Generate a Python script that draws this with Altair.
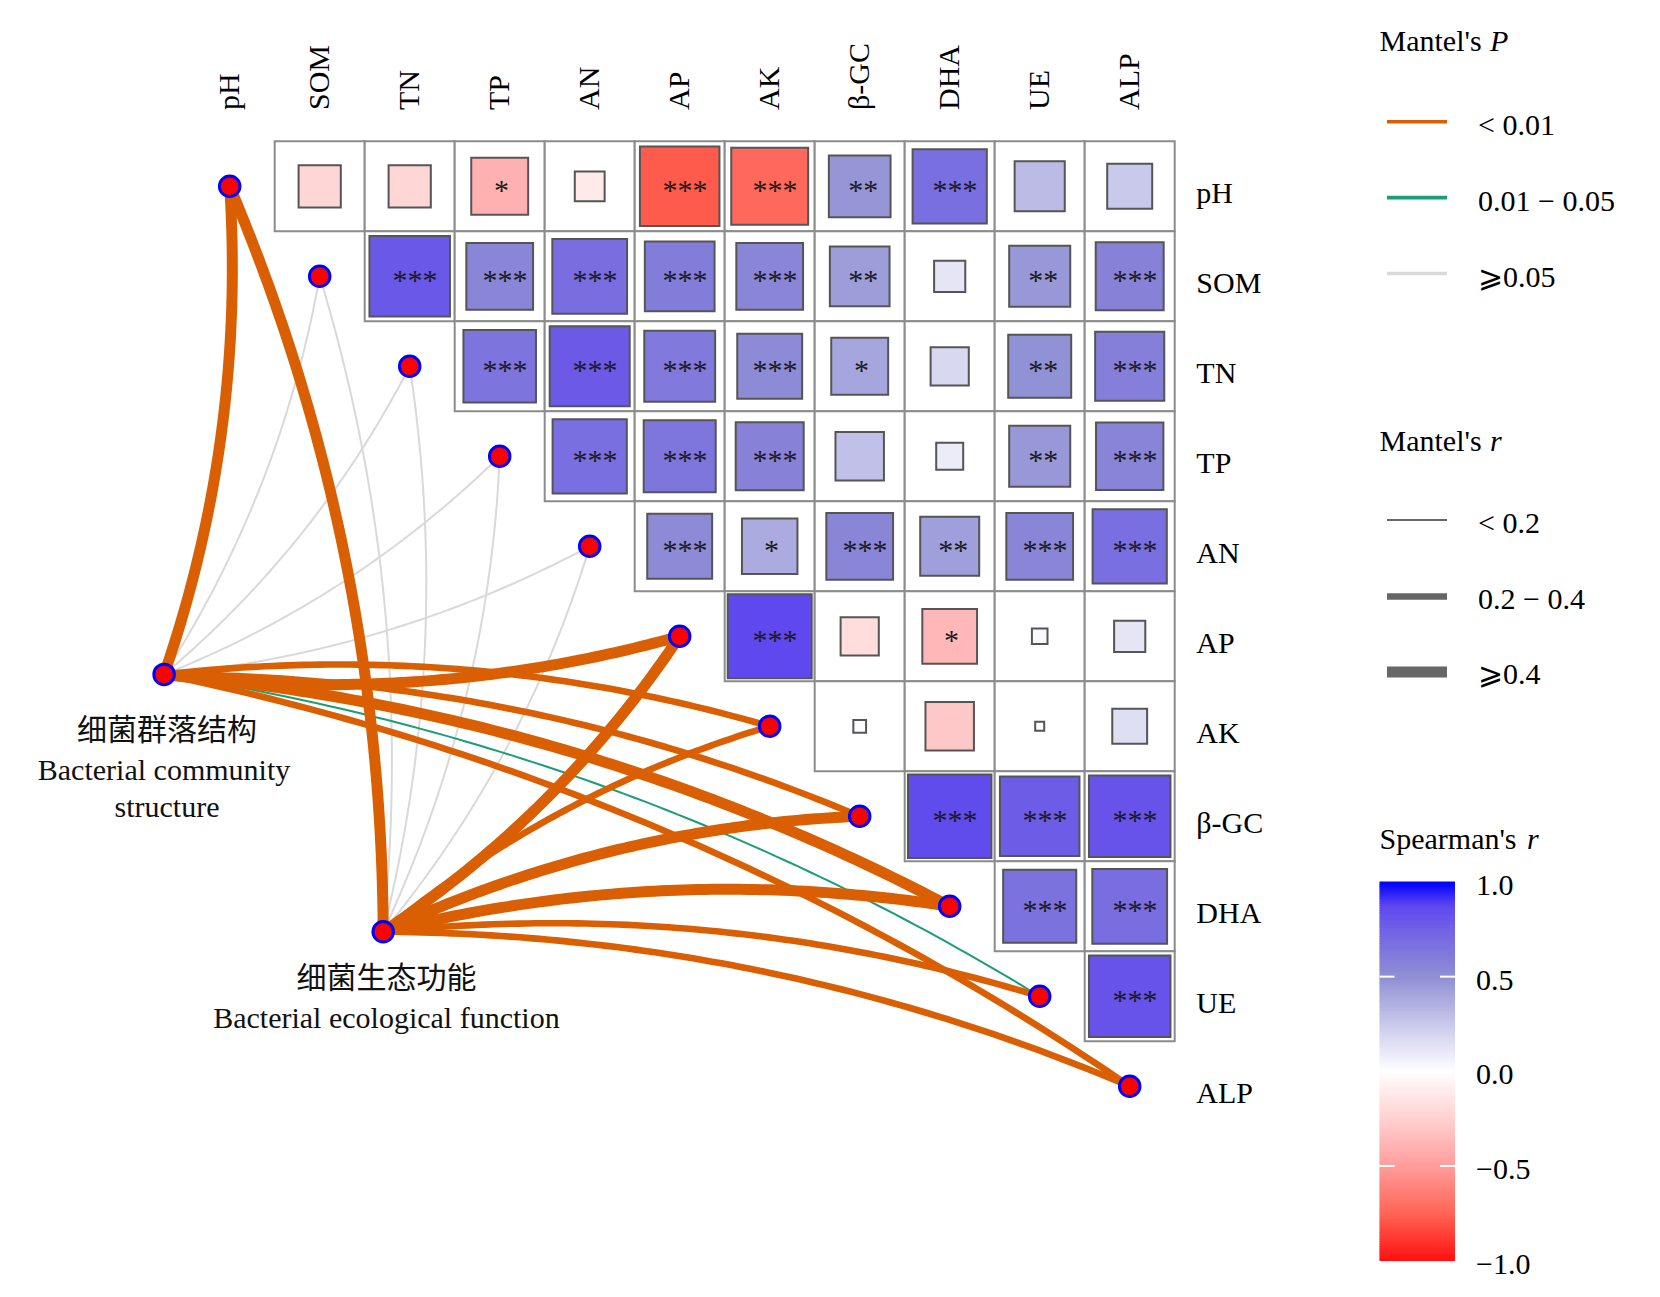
import numpy as np
import pandas as pd
import altair as alt

# ---------------- data ----------------
VARS = ["pH", "SOM", "TN", "TP", "AN", "AP", "AK", "β-GC", "DHA", "UE", "ALP"]

# Spearman's r, upper triangle, row by row (columns to the right of the diagonal)
R_PH = [-0.22, -0.22, -0.40, -0.11, -0.78, -0.73, 0.47, 0.68, 0.31, 0.25]
R_SOM = [0.80, 0.55, 0.69, 0.60, 0.55, 0.44, 0.12, 0.46, 0.57]
R_TN = [0.65, 0.79, 0.62, 0.52, 0.40, 0.18, 0.49, 0.59]
R_TP = [0.68, 0.64, 0.57, 0.29, 0.09, 0.46, 0.56]
R_AN = [0.52, 0.38, 0.55, 0.43, 0.55, 0.68]
R_AP = [0.87, -0.18, -0.37, 0.03, 0.12]
R_AK = [0.02, -0.29, 0.01, 0.15]
R_BGC = [0.86, 0.78, 0.82]
R_DHA = [0.66, 0.69]
R_UE = [0.82]
R_ROWS = [R_PH, R_SOM, R_TN, R_TP, R_AN, R_AP, R_AK, R_BGC, R_DHA, R_UE]

S_PH = ["", "", "*", "", "***", "***", "**", "***", "", ""]
S_SOM = ["***", "***", "***", "***", "***", "**", "", "**", "***"]
S_TN = ["***", "***", "***", "***", "*", "", "**", "***"]
S_TP = ["***", "***", "***", "", "", "**", "***"]
S_AN = ["***", "*", "***", "**", "***", "***"]
S_AP = ["***", "", "*", "", ""]
S_AK = ["", "", "", ""]
S_BGC = ["***", "***", "***"]
S_DHA = ["***", "***"]
S_UE = ["***"]
S_ROWS = [S_PH, S_SOM, S_TN, S_TP, S_AN, S_AP, S_AK, S_BGC, S_DHA, S_UE]

GROUP_CN = ["细菌群落结构", "细菌生态功能"]
GROUP_EN = [["Bacterial community", "structure"], ["Bacterial ecological function"]]

P_LEVELS = ["< 0.01", "0.01 − 0.05", "⩾0.05"]
R_LEVELS = ["< 0.2", "0.2 − 0.4", "⩾0.4"]

# Mantel tests: group 0 = community structure, group 1 = ecological function
EDGE_GROUP = [0] * 11 + [1] * 11
EDGE_TO = VARS + VARS
EDGE_P = ["< 0.01", "⩾0.05", "⩾0.05", "⩾0.05", "⩾0.05", "< 0.01", "< 0.01", "< 0.01", "< 0.01", "0.01 − 0.05", "< 0.01",
          "< 0.01", "⩾0.05", "⩾0.05", "⩾0.05", "⩾0.05", "< 0.01", "< 0.01", "< 0.01", "< 0.01", "< 0.01", "< 0.01"]
EDGE_R = ["⩾0.4", "< 0.2", "< 0.2", "< 0.2", "< 0.2", "⩾0.4", "0.2 − 0.4", "0.2 − 0.4", "⩾0.4", "< 0.2", "0.2 − 0.4",
          "⩾0.4", "< 0.2", "< 0.2", "< 0.2", "< 0.2", "⩾0.4", "0.2 − 0.4", "⩾0.4", "⩾0.4", "0.2 − 0.4", "0.2 − 0.4"]

CB_TICKS = [1.0, 0.5, 0.0, -0.5, -1.0]

# ---------------- style / layout ----------------
P_COLORS = ["#D95F02", "#1B9E77", "#D9D9D9"]
R_WIDTHS = [2.0, 6.6, 11.0]
W_OF = dict(zip(R_LEVELS, R_WIDTHS))

U = 90.0
OX, OY = 229.7, 186.3
MARGIN = 8
W, H = 1640, 1275


def gx(px):
    return (px - OX) / U


def gy(py):
    return (py - OY) / U


XS = alt.Scale(domain=[gx(MARGIN), gx(MARGIN + W)], nice=False, zero=False)
YS = alt.Scale(domain=[gy(MARGIN), gy(MARGIN + H)], nice=False, zero=False, reverse=True)

SERIF = "Liberation Serif, DejaVu Serif"
CJK = "Liberation Serif, Noto Sans CJK SC"

CS = alt.Scale(domain=[-1, -0.75, -0.5, -0.25, 0, 0.25, 0.5, 0.75, 0.875, 1],
               range=["#FF1010", "#FF6555", "#FF9C9C", "#FFD0D0", "#FFFFFF",
                      "#C9C9EC", "#8F8FD4", "#7262E4", "#5E48EE", "#0000FF"],
               interpolate="rgb")
PSCALE = alt.Scale(domain=P_LEVELS, range=P_COLORS)


def X(f):
    return alt.X(f, scale=XS, axis=None)


def Y(f):
    return alt.Y(f, scale=YS, axis=None)


# cells
cell_rows = []
for i, (rr, ss) in enumerate(zip(R_ROWS, S_ROWS)):
    for k, (r, s) in enumerate(zip(rr, ss)):
        cell_rows.append({"i": i, "j": i + 1 + k, "r": r, "stars": s})
cells = pd.DataFrame(cell_rows)

bg = alt.Chart(cells).transform_calculate(
    x0="datum.j - 0.5", x1="datum.j + 0.5", y0="datum.i - 0.5", y1="datum.i + 0.5"
).mark_rect(fill="white", stroke="#8C8C8C", strokeWidth=2).encode(
    x=X("x0:Q"), x2="x1:Q", y=Y("y0:Q"), y2="y1:Q")

squares = alt.Chart(cells).transform_calculate(absr="abs(datum.r)").mark_square(
    stroke="#555555", strokeWidth=2, opacity=1, fillOpacity=1
).encode(
    x=X("j:Q"), y=Y("i:Q"),
    size=alt.Size("absr:Q", scale=alt.Scale(domain=[0, 1], range=[0, 8100]), legend=None),
    fill=alt.Fill("r:Q", scale=CS, legend=None))

stars = alt.Chart(cells).transform_filter("datum.stars != ''").transform_calculate(
    xs="datum.j + 0.02 * length(datum.stars)"
).mark_text(font=SERIF, fontSize=30, dy=5, baseline="middle", align="center", color="#1A1A1A").encode(
    x=X("xs:Q"), y=Y("i:Q"), text="stars:N")

# group nodes
GPOS = [(gx(164.1), gy(674.4)), (gx(383.2), gy(931.7))]
MID = (len(VARS) - 1) / 2.0

# curved links (quadratic curves between group node and diagonal node)
tt = np.linspace(0, 1, 80)
link_rows = []
for e, (g, to, p, rc) in enumerate(zip(EDGE_GROUP, EDGE_TO, EDGE_P, EDGE_R)):
    x0, y0 = GPOS[g]
    k = VARS.index(to)
    x1, y1 = float(k), float(k)
    ddx, ddy = x1 - x0, y1 - y0
    L = np.hypot(ddx, ddy)
    if k <= MID:
        nx, ny = -ddy / L, ddx / L
    else:
        nx, ny = ddy / L, -ddx / L
    cx = (x0 + x1) / 2 + nx * 0.1 * L
    cy = (y0 + y1) / 2 + ny * 0.1 * L
    bx = (1 - tt) ** 2 * x0 + 2 * (1 - tt) * tt * cx + tt ** 2 * x1
    by = (1 - tt) ** 2 * y0 + 2 * (1 - tt) * tt * cy + tt ** 2 * y1
    for n, (a, b) in enumerate(zip(bx, by)):
        link_rows.append({"edge": e, "t": n, "x": a, "y": b, "p": p, "w": W_OF[rc]})
links = pd.DataFrame(link_rows)


def link_layer(level):
    return alt.Chart(links).transform_filter(alt.datum.p == level).mark_line(strokeCap="butt").encode(
        x=X("x:Q"), y=Y("y:Q"), detail="edge:N", order="t:Q",
        stroke=alt.Stroke("p:N", scale=PSCALE, legend=None),
        strokeWidth=alt.StrokeWidth("w:Q", scale=None))


lines = [link_layer(P_LEVELS[2]), link_layer(P_LEVELS[1]), link_layer(P_LEVELS[0])]

nodes = pd.DataFrame([{"x": float(k), "y": float(k)} for k in range(len(VARS))] +
                     [{"x": GPOS[0][0], "y": GPOS[0][1]}, {"x": GPOS[1][0], "y": GPOS[1][1]}])
node_layer = alt.Chart(nodes).mark_circle(fill="#FF0000", stroke="#0000FF", strokeWidth=3,
                                          size=420, opacity=1).encode(x=X("x:Q"), y=Y("y:Q"))

# axis-like labels
col_df = pd.DataFrame({"x": [float(k) for k in range(len(VARS))], "y": [gy(110)] * len(VARS), "lab": VARS})
col_labels = alt.Chart(col_df).mark_text(font=SERIF, fontSize=30, angle=270, align="left",
                                         baseline="middle", color="black").encode(
    x=X("x:Q"), y=Y("y:Q"), text="lab:N")
row_df = pd.DataFrame({"x": [gx(1196.3)] * len(VARS), "y": [float(k) for k in range(len(VARS))], "lab": VARS})
row_labels = alt.Chart(row_df).mark_text(font=SERIF, fontSize=30, align="left", baseline="middle",
                                         dy=8, color="black").encode(
    x=X("x:Q"), y=Y("y:Q"), text="lab:N")

# group labels
glab = pd.DataFrame([
    {"x": gx(167), "y": gy(730.5), "lab": GROUP_CN[0]},
    {"x": gx(164), "y": gy(770.7), "lab": GROUP_EN[0][0]},
    {"x": gx(167), "y": gy(807.8), "lab": GROUP_EN[0][1]},
    {"x": gx(386.4), "y": gy(979.3), "lab": GROUP_CN[1]},
    {"x": gx(386.4), "y": gy(1018.5), "lab": GROUP_EN[1][0]},
])
group_labels = alt.Chart(glab).mark_text(font=CJK, fontSize=30, align="center", baseline="middle",
                                         color="#111111").encode(x=X("x:Q"), y=Y("y:Q"), text="lab:N")

# ---------------- legends ----------------
LX = 1379.5
titles = pd.DataFrame([
    {"x": gx(LX), "y": gy(42.3), "lab": "Mantel's"},
    {"x": gx(LX), "y": gy(441.5), "lab": "Mantel's"},
    {"x": gx(LX), "y": gy(839.5), "lab": "Spearman's"},
])
titles_it = pd.DataFrame([
    {"x": gx(1490), "y": gy(42.3), "lab": "P"},
    {"x": gx(1490), "y": gy(441.5), "lab": "r"},
    {"x": gx(1527), "y": gy(839.5), "lab": "r"},
])
title_layer = alt.Chart(titles).mark_text(font=SERIF, fontSize=30, align="left", baseline="middle",
                                          color="black").encode(x=X("x:Q"), y=Y("y:Q"), text="lab:N")
title_it_layer = alt.Chart(titles_it).mark_text(font=SERIF, fontSize=30, fontStyle="italic", align="left",
                                                baseline="middle", color="black").encode(
    x=X("x:Q"), y=Y("y:Q"), text="lab:N")

P_LINE_Y = [121.7, 197.6, 273.5]
P_LAB_Y = [126, 202, 278]
R_LINE_Y = [520, 596.5, 672]
R_LAB_Y = [524, 600, 675]

pleg = pd.DataFrame({"x0": [gx(1387)] * 3, "x1": [gx(1447)] * 3, "y": [gy(v) for v in P_LINE_Y], "p": P_LEVELS})
pleg_layer = alt.Chart(pleg).mark_rule(strokeWidth=3.6, strokeCap="butt").encode(
    x=X("x0:Q"), x2="x1:Q", y=Y("y:Q"), stroke=alt.Stroke("p:N", scale=PSCALE, legend=None))
rleg = pd.DataFrame({"x0": [gx(1387)] * 3, "x1": [gx(1447)] * 3, "y": [gy(v) for v in R_LINE_Y],
                     "w": [W_OF[v] for v in R_LEVELS]})
rleg_layer = alt.Chart(rleg).mark_rule(stroke="#666666", strokeCap="butt").encode(
    x=X("x0:Q"), x2="x1:Q", y=Y("y:Q"),
    strokeWidth=alt.StrokeWidth("w:Q", scale=None))

leg_labels = pd.DataFrame({"x": [gx(1478)] * 6, "y": [gy(v) for v in P_LAB_Y + R_LAB_Y],
                           "lab": P_LEVELS + R_LEVELS})
leg_label_layer = alt.Chart(leg_labels).mark_text(font=SERIF, fontSize=30, align="left", baseline="middle",
                                                  color="black").encode(
    x=X("x:Q"), y=Y("y:Q"), text="lab:N")

# colour bar
CB_X0, CB_X1 = 1379.5, 1455
CB_Y0, CB_K = 1071.3, 189.3  # px of r = 0 and px per unit of r
steps = np.linspace(-1, 1, 161)
cb = pd.DataFrame({
    "x0": gx(CB_X0), "x1": gx(CB_X1),
    "y0": [gy(CB_Y0 - CB_K * a + 0.4) for a in steps[:-1]],
    "y1": [gy(CB_Y0 - CB_K * b - 0.4) for b in steps[1:]],
    "v": [(a + b) / 2 for a, b in zip(steps[:-1], steps[1:])],
})
cb_layer = alt.Chart(cb).mark_rect(strokeWidth=0).encode(
    x=X("x0:Q"), x2="x1:Q", y=Y("y0:Q"), y2="y1:Q", fill=alt.Fill("v:Q", scale=CS, legend=None))

tick_rows = []
for v in [0.5, -0.5]:
    tick_rows.append({"x0": gx(CB_X0), "x1": gx(CB_X0 + 15), "y": gy(CB_Y0 - CB_K * v)})
    tick_rows.append({"x0": gx(CB_X1 - 15), "x1": gx(CB_X1), "y": gy(CB_Y0 - CB_K * v)})
cb_ticks = alt.Chart(pd.DataFrame(tick_rows)).mark_rule(stroke="white", strokeWidth=2).encode(
    x=X("x0:Q"), x2="x1:Q", y=Y("y:Q"))

cb_lab = pd.DataFrame({"x": [gx(1476)] * len(CB_TICKS),
                       "y": [gy(CB_Y0 - CB_K * v + 4) for v in CB_TICKS],
                       "lab": [("−" if v < 0 else "") + f"{abs(v):.1f}" for v in CB_TICKS]})
cb_lab_layer = alt.Chart(cb_lab).mark_text(font=SERIF, fontSize=30, align="left", baseline="middle",
                                           color="black").encode(x=X("x:Q"), y=Y("y:Q"), text="lab:N")

chart = alt.layer(
    bg, squares, stars, *lines, node_layer, col_labels, row_labels, group_labels,
    title_layer, title_it_layer, pleg_layer, rleg_layer, leg_label_layer,
    cb_layer, cb_ticks, cb_lab_layer
).properties(
    width=W, height=H, padding=0, autosize=alt.AutoSizeParams(type="none"), background="white"
).configure_view(stroke=None)

chart.save("out.html", embed_options={"renderer": "svg", "actions": False})
